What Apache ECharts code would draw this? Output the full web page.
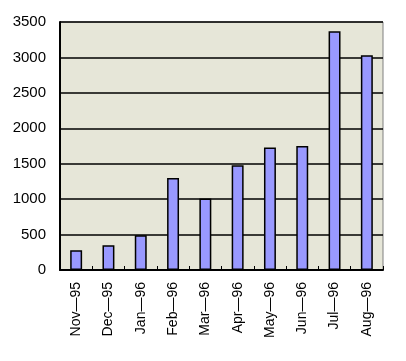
<!DOCTYPE html>
<html><head><meta charset="utf-8">
<script src="https://cdn.jsdelivr.net/npm/echarts@6/dist/echarts.min.js"></script>
<style>html,body{margin:0;padding:0;background:#fff}#c{width:406px;height:361px}</style>
</head><body><div id="c"></div>
<script>
const categories = ['Nov\u201495','Dec\u201495','Jan\u201496','Feb\u201496','Mar\u201496','Apr\u201496','May\u201496','Jun\u201496','Jul\u201496','Aug\u201496'];
const values = [280, 350, 490, 1300, 1010, 1480, 1730, 1750, 3370, 3030];
const yTicks = [0, 500, 1000, 1500, 2000, 2500, 3000, 3500];

const chart = echarts.init(document.getElementById('c'), null, {renderer:'canvas'});
chart.setOption({
  animation: false,
  grid: {left: 60, top: 22, right: 23, bottom: 91, show: true, backgroundColor: '#e6e6d8', borderColor: '#808080', borderWidth: 1},
  xAxis: {
    type: 'category', data: categories,
    axisLine: {show: true, lineStyle: {color: '#000', width: 2}},
    axisTick: {show: true, inside: true, length: 4, alignWithLabel: false, lineStyle: {color: '#000', width: 1}},
    axisLabel: {rotate: 90, color: '#000', fontSize: 14, fontFamily: 'Liberation Sans, Arial', margin: 12, interval: 0},
    splitLine: {show: false}
  },
  yAxis: {
    type: 'value', min: yTicks[0], max: yTicks[yTicks.length-1], interval: 500,
    axisLine: {show: true, lineStyle: {color: '#000', width: 2}},
    axisTick: {show: false},
    axisLabel: {color: '#000', fontSize: 15, fontFamily: 'Liberation Sans, Arial', margin: 14, formatter: v => String(v)},
    splitLine: {show: true, lineStyle: {color: '#000', width: 1.5}}
  },
  series: [{
    type: 'bar', data: values, barWidth: '37%',
    itemStyle: {color: '#9999ff', borderColor: '#000', borderWidth: 1.5}
  }]
});
</script></body></html>
